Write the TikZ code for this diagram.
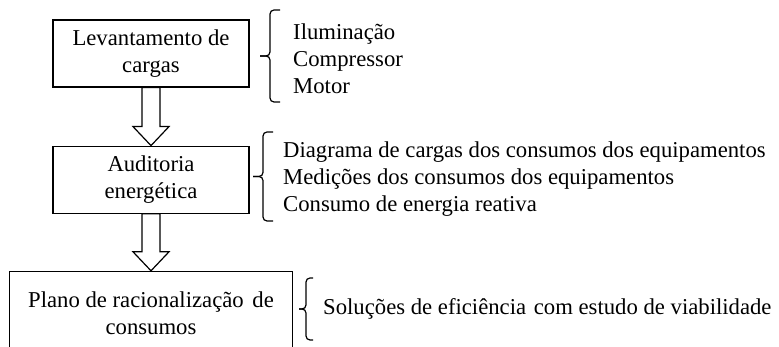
\documentclass[tikz,border=0pt]{standalone}
\usepackage{fontspec}
\setmainfont{Liberation Serif}
\usetikzlibrary{positioning,calc}

\newcommand{\flowarrow}[2]{%
  \draw[flowline] let \p1=(#1.south), \p2=(#2.north) in
    (\x1-9pt,\y1) -- (\x1+9pt,\y1) -- (\x1+9pt,\y2+19pt) -- (\x1+18pt,\y2+19pt)
    -- (\x1,\y2) -- (\x1-18pt,\y2+19pt) -- (\x1-9pt,\y2+19pt) -- cycle;}
% #1 x of the stem, #2 bottom, #3 top, #4 reach of ends and tip
\newcommand{\itembrace}[4]{%
  \draw[bracestroke] (#1+#4,#3) -- (#1,#3) -- (#1,{(#2+#3)/2}) -- (#1-#4,{(#2+#3)/2});
  \draw[bracestroke] (#1-#4,{(#2+#3)/2}) -- (#1,{(#2+#3)/2}) -- (#1,#2) -- (#1+#4,#2);}

\begin{document}
\begin{tikzpicture}[
                x=1pt, y=1pt,
                font=\fontsize{22.7}{27}\selectfont,
                stagebox/.style = {rectangle, draw, line width=1.2pt, align=center, minimum width=196pt, minimum height=67pt, inner sep=0pt},
                itemlist/.style = {align=left, anchor=base west, inner sep=0pt},
                flowline/.style = {draw, line width=1.2pt, fill=white, line join=miter},
                bracestroke/.style = {line width=1.2pt, rounded corners=4pt}
        ]
        \clip (0,0) rectangle (779,347);
        % stages
        \node[stagebox] (lev) at (151,293.5) {Levantamento de\\cargas};
        \node[stagebox, below=58pt of lev] (aud) {Auditoria\\energética};
        \node[stagebox, minimum width=283pt, minimum height=84pt, below=57pt of aud] (plano) {Plano de racionalização\hspace{3pt} de\\consumos};
        \flowarrow{lev}{aud}
        \flowarrow{aud}{plano}
        % lists (base = last line)
        \itembrace{270}{245}{337}{10}
        \node[itemlist] (cargas) at (293,253) {Iluminação\\Compressor\\Motor};
        \itembrace{263}{126}{215}{10}
        \node[itemlist] (medidas) at (283,135) {Diagrama de cargas dos consumos dos equipamentos\\Medições dos consumos dos equipamentos\\Consumo de energia reativa};
        \itembrace{306}{7}{69}{7}
        \node[itemlist] (solucoes) at (323,32) {Soluções de eficiência\hspace{2pt} com estudo de viabilidade};
\end{tikzpicture}
\end{document}
